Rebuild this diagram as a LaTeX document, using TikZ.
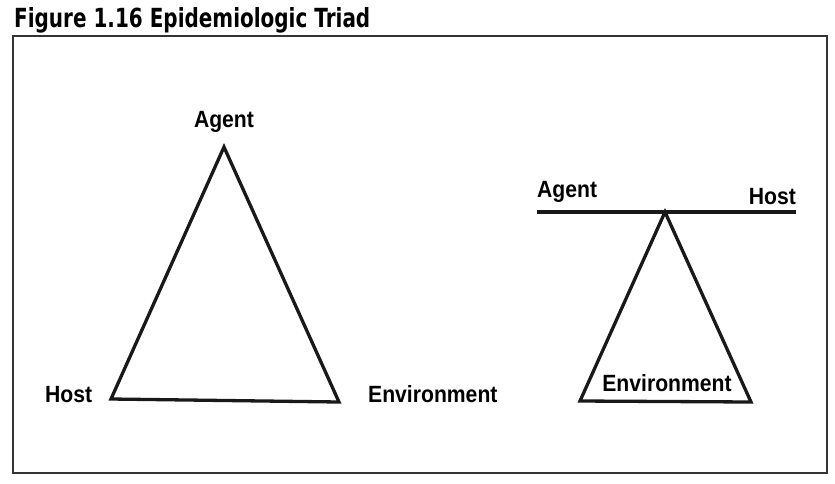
\documentclass[tikz,border=0pt]{standalone}
\usepackage{fontspec}
\setmainfont{Liberation Sans}
\newfontfamily\titlefont{DejaVu Sans}
\usepackage{graphicx}
\usetikzlibrary{positioning}
\newcommand{\narrowtxt}[1]{\scalebox{0.9}[1]{#1}}
\tikzset{
  x=1pt,y=-1pt,
  frame/.style={draw=black!80,line width=1.6pt},
  tri/.style={draw=black!90,line width=3.3pt,line join=miter},
  beam/.style={draw=black!90,line width=3.7pt},
  lbl/.style={font=\bfseries\fontsize{23.5}{26}\selectfont,inner sep=0pt,
    anchor=base west},
  ttl/.style={inner sep=0pt,anchor=base west},
}
\begin{document}
\begin{tikzpicture}
  \useasboundingbox (0,0) rectangle (835,483);
  % title and frame
  \node[ttl] (title) at (14,27)
    {\resizebox{356pt}{20pt}{\titlefont\bfseries Figure 1.16 Epidemiologic Triad}};
  \draw[frame] (13,36) rectangle (827,473);
  % left: triangle
  \coordinate (ta) at (224,147);
  \coordinate (th) at (111,399);
  \coordinate (te) at (339,402);
  \draw[tri] (ta) -- (th) -- (te) -- cycle;
  \node[lbl,anchor=base] (agentL) at (224,127) {\narrowtxt{Agent}};
  \node[lbl] (hostL) at (45,402) {\narrowtxt{Host}};
  \node[lbl] (envL) at (368,402) {\narrowtxt{Environment}};
  % right: balance
  \coordinate (bl) at (537,212);
  \coordinate (br) at (796,212);
  \coordinate (pv) at (665,212);
  \coordinate (fl) at (580,401);
  \coordinate (fr) at (751,402);
  \draw[beam] (bl) -- (br);
  \draw[tri] (pv) -- (fl) -- (fr) -- cycle;
  \node[lbl] (agentR) at (537,197) {\narrowtxt{Agent}};
  \node[lbl,anchor=base east] (hostR) at (796,204) {\narrowtxt{Host}};
  \node[lbl,anchor=base] (envR) at (667,391) {\narrowtxt{Environment}};
\end{tikzpicture}
\end{document}
